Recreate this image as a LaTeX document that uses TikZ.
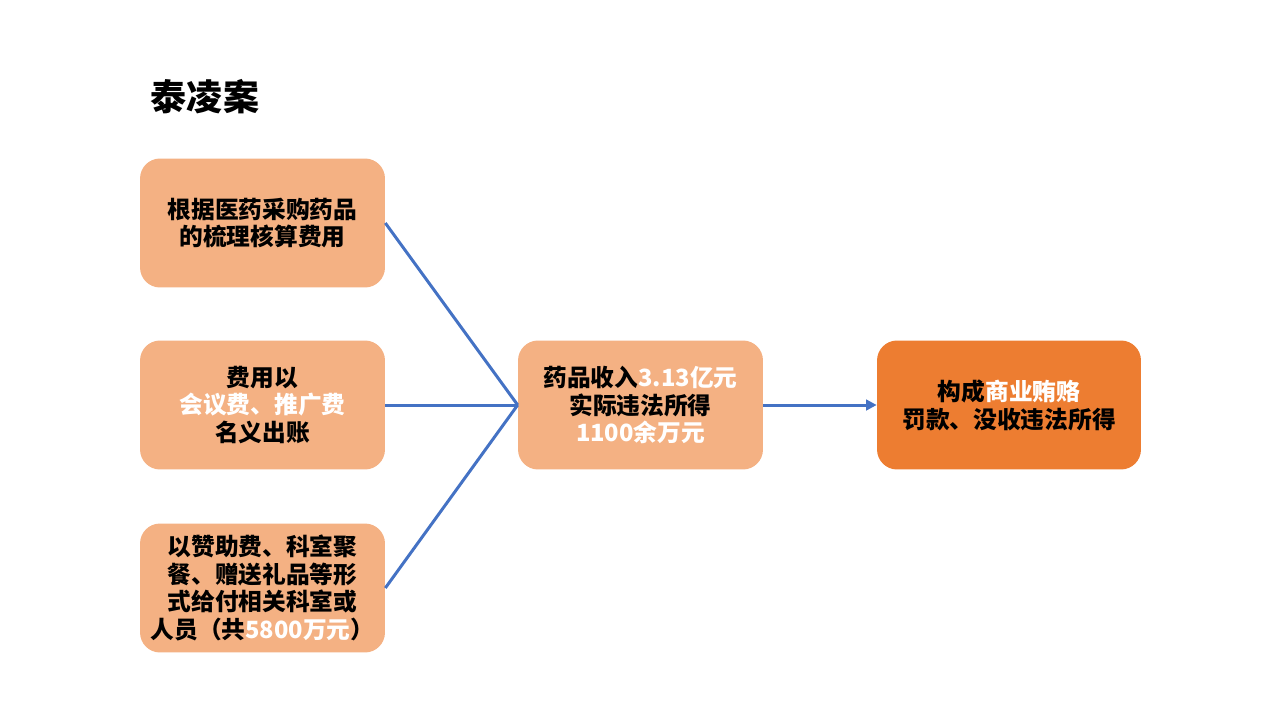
\documentclass[tikz,border=0pt]{standalone}
\usepackage{fontspec}
\setmainfont{Noto Sans CJK SC}
\usetikzlibrary{arrows.meta}
\definecolor{boxlight}{HTML}{F4B183}
\definecolor{boxdark}{HTML}{ED7D31}
\definecolor{linkblue}{HTML}{4472C4}
\tikzset{
  stepbox/.style={fill=boxlight, rounded corners=0.4cm, minimum width=4.9cm, minimum height=2.58cm, inner sep=0pt, align=center},
  link/.style={draw=linkblue, line width=1.7pt}
}
\newcommand{\wt}[1]{\textcolor{white}{#1}}
\begin{document}
\begin{tikzpicture}[x=0.02cm, y=-0.02cm, font=\bfseries\fontsize{13.5}{15.8}\selectfont, line join=round, >={Triangle[length=6pt,width=6pt]}]
\useasboundingbox (0,0) rectangle (1280,720);
\node (title) at (205,97) {\fontsize{20.5}{24}\selectfont 泰凌案};
% left column
\node[stepbox] (cost) at (262.5,223) {根据医药采购药品\\的梳理核算费用};
\node[stepbox] (bill) at (262.5,405) {费用以\\\wt{会议费、推广费}\\名义出账};
\node[stepbox] (gift) at (262.5,588) {以赞助费、科室聚\\餐、赠送礼品等形\\式给付相关科室或\\人员（共\wt{5800万元}）};
% middle and result
\node[stepbox] (income) at (640.5,405) {药品收入\wt{3.13亿元}\\实际违法所得\\\wt{1100余万元}};
\node[stepbox, fill=boxdark, minimum width=5.28cm] (verdict) at (1009,405) {构成\wt{商业贿赂}\\罚款、没收违法所得};
\draw[link] (cost.east) -- (income.west);
\draw[link] (bill.east) -- (income.west);
\draw[link] (gift.east) -- (income.west);
\draw[link,->] (income.east) -- (verdict.west);
\end{tikzpicture}
\end{document}
